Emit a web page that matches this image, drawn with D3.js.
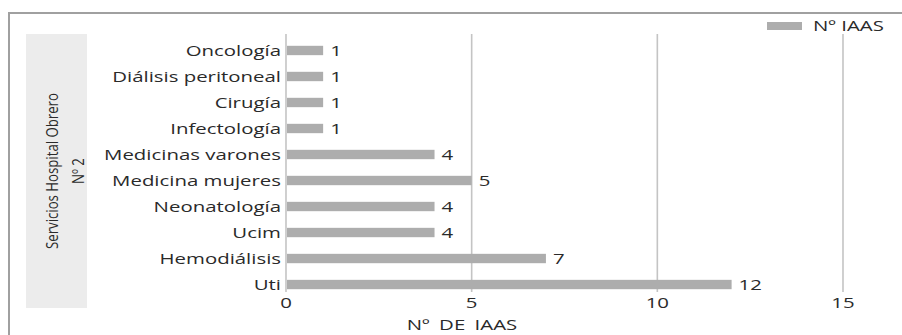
<!DOCTYPE html>
<html><head><meta charset="utf-8">
<script src="https://cdn.jsdelivr.net/npm/d3@7"></script>
<style>body{margin:0;background:#fff}svg{display:block}text{font-family:"Open Sans",sans-serif;fill:#2a2a2a}</style>
</head><body><svg id="c" width="902" height="335"></svg>
<script>
const categories = ["Oncología","Diálisis peritoneal","Cirugía","Infectología","Medicinas varones","Medicina mujeres","Neonatología","Ucim","Hemodiálisis","Uti"];
const values = [1,1,1,1,4,5,4,4,7,12];
const xTicks = [0,5,10,15];
const seriesName = "Nº IAAS";
const xTitle = "Nº DE IAAS";
const yTitle = ["Servicios Hospital Obrero","Nº 2"];

const SX = 1.36; // horizontal stretch of the reference lettering
const svg = d3.select("#c");
// outer frame
svg.append("path").attr("d","M9,335V13H902").attr("fill","none").attr("stroke","#a0a0a0").attr("stroke-width",2);
// y title box
svg.append("rect").attr("x",26).attr("y",34).attr("width",61).attr("height",274).attr("fill","#ececec");
const yt = svg.append("text").attr("transform","translate(58,171) rotate(-90) scale(0.8,1)").attr("text-anchor","middle")
  .style("font-size","16.5px");
yt.append("tspan").attr("x",0).attr("y",0).text(yTitle[0]);
yt.append("tspan").attr("x",0).attr("y",26).text(yTitle[1]);

const x = d3.scaleLinear().domain([0,15]).range([286,843]);
const y = d3.scaleBand().domain(categories).range([38,297]).paddingInner(0.64).paddingOuter(0.3);

function stretched(sel, ax, ay){
  return sel.attr("transform",(d,i)=>`translate(${ax(d,i)},${ay(d,i)}) scale(${SX},1)`);
}

// gridlines
svg.append("g").selectAll("line").data(xTicks).join("line")
  .attr("x1",d=>x(d)).attr("x2",d=>x(d)).attr("y1",34).attr("y2",292)
  .attr("stroke","#c4c4c4").attr("stroke-width",1.6);
// x axis tick labels
stretched(svg.append("g").selectAll("text").data(xTicks).join("text"), d=>x(d), ()=>308)
  .attr("text-anchor","middle").style("font-size","15px").text(d=>d);
svg.append("text").attr("transform",`translate(462,330) scale(${SX},1)`).attr("text-anchor","middle")
  .style("font-size","15px").style("word-spacing","3px").text(xTitle);

// bars
svg.append("g").selectAll("rect").data(values).join("rect")
  .attr("x",x(0)+1).attr("y",(d,i)=>y(categories[i]))
  .attr("width",d=>x(d)-x(0)-1).attr("height",y.bandwidth()).attr("fill","#adadad");
// value labels
stretched(svg.append("g").selectAll("text").data(values).join("text"),
  d=>x(d)+7, (d,i)=>y(categories[i])+y.bandwidth()/2)
  .attr("dy","0.36em").style("font-size","15px").text(d=>d);
// category labels
stretched(svg.append("g").selectAll("text").data(categories).join("text"),
  ()=>281, d=>y(d)+y.bandwidth()/2)
  .attr("dy","0.36em").attr("text-anchor","end").style("font-size","15px").text(d=>d);

// legend
svg.append("rect").attr("x",767).attr("y",22).attr("width",35).attr("height",8).attr("fill","#adadad");
svg.append("text").attr("transform",`translate(813,26) scale(${SX},1)`).attr("dy","0.36em").style("font-size","15px").text(seriesName);
</script></body></html>
